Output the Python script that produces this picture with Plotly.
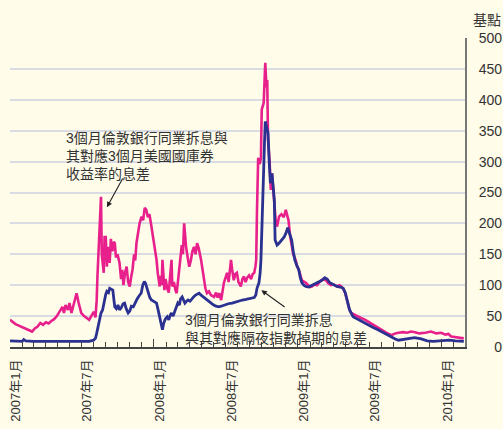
import plotly.graph_objects as go

# ---- data ----
ted_dates = ["2007-01-01","2007-01-08","2007-01-15","2007-01-22","2007-01-29","2007-02-05","2007-02-12","2007-02-19","2007-02-26",
"2007-03-05","2007-03-12","2007-03-19","2007-03-26","2007-04-02","2007-04-09","2007-04-16","2007-04-23","2007-04-30",
"2007-05-07","2007-05-14","2007-05-18","2007-05-22","2007-05-28","2007-06-01","2007-06-06","2007-06-12","2007-06-19",
"2007-06-24","2007-07-01","2007-07-08","2007-07-14","2007-07-21","2007-07-28","2007-08-02","2007-08-06","2007-08-09",
"2007-08-11","2007-08-14","2007-08-17","2007-08-20","2007-08-22","2007-08-24","2007-08-27","2007-08-29","2007-09-01",
"2007-09-04","2007-09-06","2007-09-09","2007-09-11","2007-09-14","2007-09-18","2007-09-21","2007-09-24","2007-09-27",
"2007-10-01","2007-10-06","2007-10-10","2007-10-13","2007-10-16","2007-10-20","2007-10-24","2007-10-28","2007-11-01",
"2007-11-05","2007-11-08","2007-11-12","2007-11-15","2007-11-18","2007-11-22","2007-11-26","2007-12-01","2007-12-05",
"2007-12-09","2007-12-13","2007-12-17","2007-12-21","2007-12-26","2007-12-31","2008-01-04","2008-01-08","2008-01-11",
"2008-01-14","2008-01-16","2008-01-19","2008-01-21","2008-01-23","2008-01-25","2008-01-28","2008-01-31","2008-02-04",
"2008-02-08","2008-02-12","2008-02-15","2008-02-17","2008-02-21","2008-02-25","2008-02-28","2008-03-03","2008-03-05",
"2008-03-08","2008-03-12","2008-03-15","2008-03-18","2008-03-20","2008-03-23","2008-03-27","2008-03-31","2008-04-04",
"2008-04-08","2008-04-12","2008-04-16","2008-04-20","2008-04-24","2008-04-30","2008-05-04","2008-05-07","2008-05-11",
"2008-05-15","2008-05-20","2008-05-25","2008-06-02","2008-06-07","2008-06-11","2008-06-15","2008-06-20","2008-06-24",
"2008-06-27","2008-07-01","2008-07-05","2008-07-09","2008-07-12","2008-07-15","2008-07-18","2008-07-22","2008-07-26",
"2008-07-30","2008-08-03","2008-08-09","2008-08-13","2008-08-17","2008-08-21","2008-08-25","2008-08-30","2008-09-04",
"2008-09-08","2008-09-12","2008-09-15","2008-09-17","2008-09-19","2008-09-22","2008-09-26","2008-09-29","2008-10-01",
"2008-10-06","2008-10-10","2008-10-13","2008-10-15","2008-10-17","2008-10-21","2008-10-24","2008-10-27","2008-10-31",
"2008-11-03","2008-11-06","2008-11-09","2008-11-14","2008-11-20","2008-11-26","2008-12-01","2008-12-04","2008-12-08",
"2008-12-12","2008-12-16","2008-12-20","2008-12-26","2008-12-30","2009-01-03","2009-01-07","2009-01-11","2009-01-16",
"2009-01-21","2009-01-27","2009-02-01","2009-02-06","2009-02-12","2009-02-18","2009-02-24","2009-03-01","2009-03-07",
"2009-03-13","2009-03-19","2009-03-26","2009-04-02","2009-04-10","2009-04-16","2009-04-21","2009-04-26","2009-05-01",
"2009-05-06","2009-05-11","2009-05-16","2009-05-24","2009-06-01","2009-06-10","2009-06-21","2009-07-01","2009-07-12",
"2009-07-23","2009-08-03","2009-08-14","2009-08-26","2009-09-05","2009-09-13","2009-09-25","2009-10-05","2009-10-15",
"2009-10-25","2009-11-05","2009-11-20","2009-12-05","2009-12-18","2009-12-31","2010-01-10","2010-01-18","2010-01-25",
"2010-02-05","2010-02-12","2010-02-19","2010-02-26"]
ted_values = [44,40,37,35,33,31,29,27,25,
30,33,39,36,40,38,42,45,50,
58,65,55,68,60,71,55,68,87,
72,55,50,47,44,52,57,48,75,
114,160,200,243,150,141,120,178,178,
130,162,150,136,175,155,170,168,145,
150,136,110,125,100,120,130,105,98,
115,125,150,140,168,185,200,211,205,
225,222,210,215,195,175,160,141,120,
105,98,115,100,141,110,92,110,95,
88,115,141,98,105,92,87,110,120,
140,165,150,200,180,162,145,130,140,
155,162,150,168,160,141,125,114,95,
87,90,84,81,88,80,87,76,92,
104,112,120,105,130,141,125,108,118,
120,105,98,110,114,105,112,116,110,
118,120,130,141,222,306,296,306,384,
395,460,420,432,335,300,254,281,249,
211,200,195,211,215,210,222,215,205,
180,162,150,141,130,125,118,108,106,
104,100,97,98,101,100,105,108,110,
108,103,100,101,98,100,98,94,87,
75,62,55,52,50,47,44,40,36,
31,27,23,19,22,23,24,23,25,
24,22,23,25,22,23,20,21,17,
16,15,15,14]

ois_dates = ["2007-01-01","2007-01-15","2007-02-01","2007-02-05","2007-02-10","2007-03-01","2007-04-01","2007-05-01","2007-06-01",
"2007-07-01","2007-07-21","2007-08-01","2007-08-06","2007-08-09","2007-08-14","2007-08-16","2007-08-20","2007-08-24",
"2007-08-28","2007-09-01","2007-09-04","2007-09-08","2007-09-11","2007-09-15","2007-09-19","2007-09-22","2007-09-24",
"2007-09-28","2007-10-02","2007-10-06","2007-10-10","2007-10-15","2007-10-19","2007-10-23","2007-10-28","2007-11-01",
"2007-11-05","2007-11-10","2007-11-15","2007-11-20","2007-11-25","2007-11-30","2007-12-04","2007-12-08","2007-12-11",
"2007-12-13","2007-12-18","2007-12-22","2007-12-26","2008-01-02","2008-01-08","2008-01-12","2008-01-16","2008-01-19",
"2008-01-23","2008-01-26","2008-01-30","2008-02-04","2008-02-08","2008-02-12","2008-02-15","2008-02-19","2008-02-24",
"2008-02-28","2008-03-02","2008-03-06","2008-03-09","2008-03-13","2008-03-17","2008-03-20","2008-03-24","2008-03-28",
"2008-04-02","2008-04-07","2008-04-11","2008-04-16","2008-04-20","2008-04-25","2008-04-30","2008-05-06","2008-05-12",
"2008-05-19","2008-05-25","2008-06-01","2008-06-07","2008-06-14","2008-06-20","2008-06-28","2008-07-08","2008-07-18",
"2008-07-28","2008-08-05","2008-08-13","2008-08-22","2008-09-01","2008-09-08","2008-09-12","2008-09-16","2008-09-19",
"2008-09-24","2008-09-27","2008-09-29","2008-10-01","2008-10-03","2008-10-06","2008-10-08","2008-10-10","2008-10-14",
"2008-10-17","2008-10-20","2008-10-23","2008-10-27","2008-10-30","2008-11-02","2008-11-04","2008-11-09","2008-11-14",
"2008-11-20","2008-11-27","2008-12-02","2008-12-06","2008-12-10","2008-12-16","2008-12-20","2008-12-24","2008-12-29",
"2009-01-03","2009-01-07","2009-01-11","2009-01-16","2009-01-21","2009-01-28","2009-02-06","2009-02-15","2009-02-24",
"2009-03-03","2009-03-10","2009-03-16","2009-03-23","2009-03-31","2009-04-10","2009-04-18","2009-04-26","2009-05-01",
"2009-05-06","2009-05-12","2009-05-21","2009-06-01","2009-06-10","2009-06-21","2009-07-01","2009-07-12","2009-07-23",
"2009-08-03","2009-08-14","2009-08-26","2009-09-05","2009-09-13","2009-09-25","2009-10-10","2009-10-24","2009-11-10",
"2009-11-25","2009-12-10","2009-12-25","2010-01-05","2010-01-20","2010-02-05","2010-02-19","2010-02-26"]
ois_values = [10,9,9,12,10,9,9,9,8,
9,9,11,14,22,35,44,55,60,
75,85,90,88,95,93,92,75,65,
62,68,60,63,70,71,62,55,58,
66,65,72,78,83,87,100,106,103,
98,88,80,76,74,71,60,49,40,
28,38,45,49,44,52,55,50,60,
65,71,68,78,81,75,71,74,76,
74,79,81,84,86,87,84,81,77,
73,70,68,66,65,66,68,70,71,
73,75,76,77,78,79,80,84,95,
104,120,141,190,250,300,330,365,352,
346,300,265,281,260,238,173,165,168,
172,178,185,193,185,173,155,141,132,
125,112,104,100,98,97,100,102,106,
108,112,110,104,101,98,97,95,88,
76,60,49,45,42,39,35,31,28,
24,20,17,13,11,12,14,15,13,
10,9,10,11,11,10,9,9]

x_range = ["2007-01-01", "2010-03-01"]
year_ticks = ["2007-01-01", "2008-01-01", "2009-01-01", "2010-01-01"]
label_dates = ["2007-01-16", "2007-07-16", "2008-01-16", "2008-07-16", "2009-01-16", "2009-07-16", "2010-01-16"]
label_text = ["2007年1月", "2007年7月", "2008年1月", "2008年7月", "2009年1月", "2009年7月", "2010年1月"]
y_ticks = [0, 50, 100, 150, 200, 250, 300, 350, 400, 450, 500]
grid_ticks = [50, 100, 150, 200, 250, 300, 350, 400, 450]

ted_label = "3個月倫敦銀行同業拆息與<br>其對應3個月美國國庫券<br>收益率的息差"
ois_label = "3個月倫敦銀行同業拆息<br>與其對應隔夜指數掉期的息差"
unit_label = "基點"

FONT = "Liberation Sans, Arial, Noto Sans CJK TC, sans-serif"
BG = "#FFFCEA"
MAGENTA = "#E8208C"
BLUE = "#2B3190"
TXT = "#333333"

fig = go.Figure()
fig.add_trace(go.Scatter(x=ted_dates, y=ted_values, mode="lines",
                         line=dict(color=MAGENTA, width=2.6), xaxis="x", yaxis="y",
                         hoverinfo="skip", showlegend=False))
fig.add_trace(go.Scatter(x=ois_dates, y=ois_values, mode="lines",
                         line=dict(color=BLUE, width=2.8), xaxis="x2", yaxis="y2",
                         hoverinfo="skip", showlegend=False))

dom_end = (465 - 10) / 493

fig.update_layout(
    width=503, height=429,
    margin=dict(l=10, r=0, t=38, b=82),
    paper_bgcolor=BG, plot_bgcolor=BG,
    font=dict(family=FONT, color=TXT, size=14),
    xaxis=dict(domain=[0, dom_end], range=x_range, type="date",
               showline=True, linecolor="#444", linewidth=1.5,
               tickmode="array", tickvals=year_ticks, ticks="inside", ticklen=8,
               tickcolor="#444", tickwidth=1.2, showticklabels=False, showgrid=False,
               zeroline=False,
               minor=dict(ticks="inside", dtick="M1", tick0="2007-01-01", ticklen=5,
                          tickcolor="#444", tickwidth=1.2, showgrid=False)),
    xaxis2=dict(domain=[0, dom_end], range=x_range, type="date", overlaying="x",
                matches="x", anchor="y", side="bottom",
                tickmode="array", tickvals=label_dates, ticktext=label_text,
                tickangle=-90, ticks="", showline=False, showgrid=False, zeroline=False,
                ticklabelstandoff=9, tickfont=dict(size=13, color=TXT)),
    yaxis=dict(domain=[0, 1], range=[0, 500], side="right", anchor="x",
               showline=True, linecolor="#777", linewidth=1.5,
               tickmode="array", tickvals=grid_ticks, showticklabels=False, ticks="",
               showgrid=True, gridcolor="#D9DCE2", gridwidth=2, zeroline=False),
    yaxis2=dict(domain=[0, 1], range=[0, 500], overlaying="y", matches="y",
                anchor="free", position=1.0, side="left",
                tickmode="array", tickvals=y_ticks, ticks="", showline=False,
                showgrid=False, zeroline=False, ticklabelstandoff=1,
                tickfont=dict(size=14, color=TXT)),
    annotations=[
        dict(text=ted_label, x="2007-05-19", y=355, xref="x", yref="y",
             xanchor="left", yanchor="top", align="left", showarrow=False,
             font=dict(size=14, color=TXT, family=FONT)),
        dict(text="", x="2007-09-04", y=226, xref="x", yref="y",
             ax="2007-10-16", ay=275, axref="x", ayref="y",
             showarrow=True, arrowhead=2, arrowsize=1, arrowwidth=1.1, arrowcolor="#222"),
        dict(text=ois_label, x="2008-03-15", y=60, xref="x", yref="y",
             xanchor="left", yanchor="top", align="left", showarrow=False,
             font=dict(size=14, color=TXT, family=FONT)),
        dict(text="", x="2008-09-30", y=92, xref="x", yref="y",
             ax="2008-12-02", ay=63, axref="x", ayref="y",
             showarrow=True, arrowhead=2, arrowsize=1, arrowwidth=1.1, arrowcolor="#222"),
        dict(text=unit_label, x=1.0, y=1.0, xref="paper", yref="paper",
             xanchor="right", yanchor="bottom", yshift=8, showarrow=False,
             font=dict(size=14, color=TXT, family=FONT)),
    ],
)

fig.write_html("out.html", config={"displayModeBar": False},
               post_script="document.body.style.margin='0';document.body.style.overflow='hidden';")
